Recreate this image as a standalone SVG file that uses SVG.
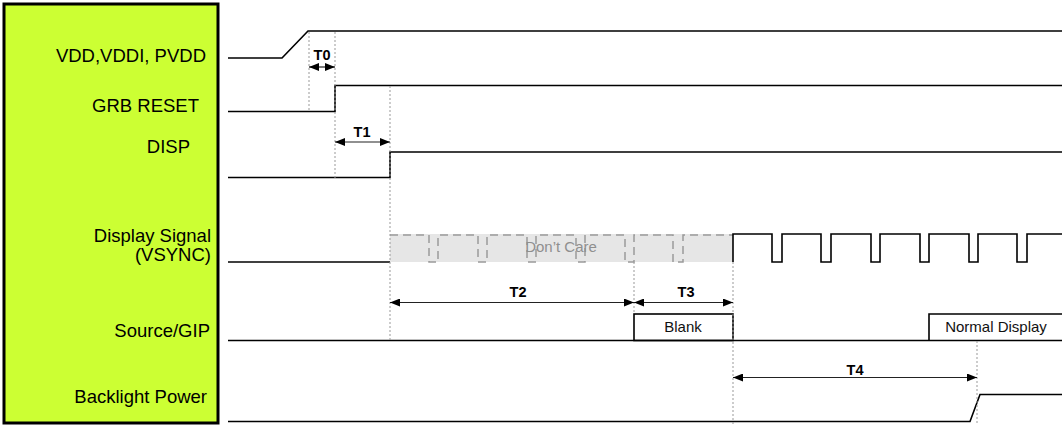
<svg xmlns="http://www.w3.org/2000/svg" width="1062" height="428" viewBox="0 0 1062 428">
<style>
.lbl{font-family:"Liberation Sans",Arial,sans-serif;font-size:18.5px;fill:#000;text-anchor:end}
.sig{fill:none;stroke:#000;stroke-width:1.6}
.dot{fill:none;stroke:#999;stroke-width:1;stroke-dasharray:2 2}
.arr{fill:none;stroke:#222;stroke-width:1.2;marker-start:url(#ah);marker-end:url(#ah)}
.tl{font-family:"Liberation Sans",Arial,sans-serif;font-size:14.5px;font-weight:bold;fill:#000;text-anchor:middle}
.bx{font-family:"Liberation Sans",Arial,sans-serif;font-size:15px;fill:#111;text-anchor:middle}
.dc{fill:none;stroke:#9a9a9a;stroke-width:1.5;stroke-dasharray:8 5}
</style>
<defs>
<marker id="ah" viewBox="0 0 10 8" refX="10" refY="4" markerWidth="10" markerHeight="8" markerUnits="userSpaceOnUse" orient="auto-start-reverse">
<path d="M0,0 L10,4 L0,8 Z" fill="#000"/>
</marker>
</defs>
<rect width="1062" height="428" fill="#fff"/>
<g id="label-panel">
<rect x="4" y="4" width="214" height="419" fill="#CCFF33" stroke="#000" stroke-width="3"/>
<text class="lbl" x="206" y="62">VDD,VDDI, PVDD</text>
<text class="lbl" x="199" y="112">GRB RESET</text>
<text class="lbl" x="190" y="153">DISP</text>
<text class="lbl" x="211" y="242">Display Signal</text>
<text class="lbl" x="211" y="261">(VSYNC)</text>
<text class="lbl" x="210" y="337">Source/GIP</text>
<text class="lbl" x="207" y="403">Backlight Power</text>
</g>
<g id="sig-vdd">
<path class="sig" d="M228,58 H282 L308,31 H1062"/>
</g>
<g id="sig-reset">
<path class="sig" d="M228,111.5 H335 V85.5 H1062"/>
</g>
<g id="sig-disp">
<path class="sig" d="M228,177.5 H390 V152 H1062"/>
</g>
<g id="sig-vsync">
<path class="sig" d="M228,262 H390"/>
<rect x="390" y="234" width="343" height="28" fill="#e6e6e6"/>
<path class="dc" d="M390,235 H429 V262 H438 V235 H478 V262 H487 V235 H527 V262 H536 V235 H576 V262 H585 V235 H625 V262 H634 V235 H673 V262 H683 V235 H733"/>
<text class="bx" x="561" y="252" style="fill:#8f8f8f">Don’t Care</text>
<path class="sig" d="M733,262 V234 H772 V262 H782 V234 H821 V262 H831 V234 H871 V262 H880 V234 H920 V262 H929 V234 H969 V262 H978 V234 H1017 V262 H1027 V234 H1062"/>
</g>
<g id="sig-source">
<path class="sig" d="M228,340.5 H1062"/>
<rect class="sig" x="634" y="314" width="99" height="26.5"/>
<text class="bx" x="683" y="332">Blank</text>
<path class="sig" d="M1062,314 H929 V340.5"/>
<text class="bx" x="996" y="332">Normal Display</text>
</g>
<g id="sig-backlight">
<path class="sig" d="M228,421.5 H970 L980,394.5 H1062"/>
</g>
<g id="connectors">
<path class="dot" d="M309,32 V110"/>
<path class="dot" d="M335,32 V178"/>
<path class="dot" d="M390,86 V340"/>
<path class="dot" d="M634,262 V314"/>
<path class="dot" d="M733,262 V424"/>
<path class="dot" d="M977,341 V424"/>
<path class="arr" d="M309,67 H335"/>
<text class="tl" x="322" y="60">T0</text>
<path class="arr" d="M335,142 H390"/>
<text class="tl" x="362" y="137">T1</text>
<path class="arr" d="M390,302.5 H634"/>
<text class="tl" x="518" y="297">T2</text>
<path class="arr" d="M634,302.5 H733"/>
<text class="tl" x="686" y="297">T3</text>
<path class="arr" d="M733,377.5 H977"/>
<text class="tl" x="855" y="375">T4</text>
</g>
</svg>
